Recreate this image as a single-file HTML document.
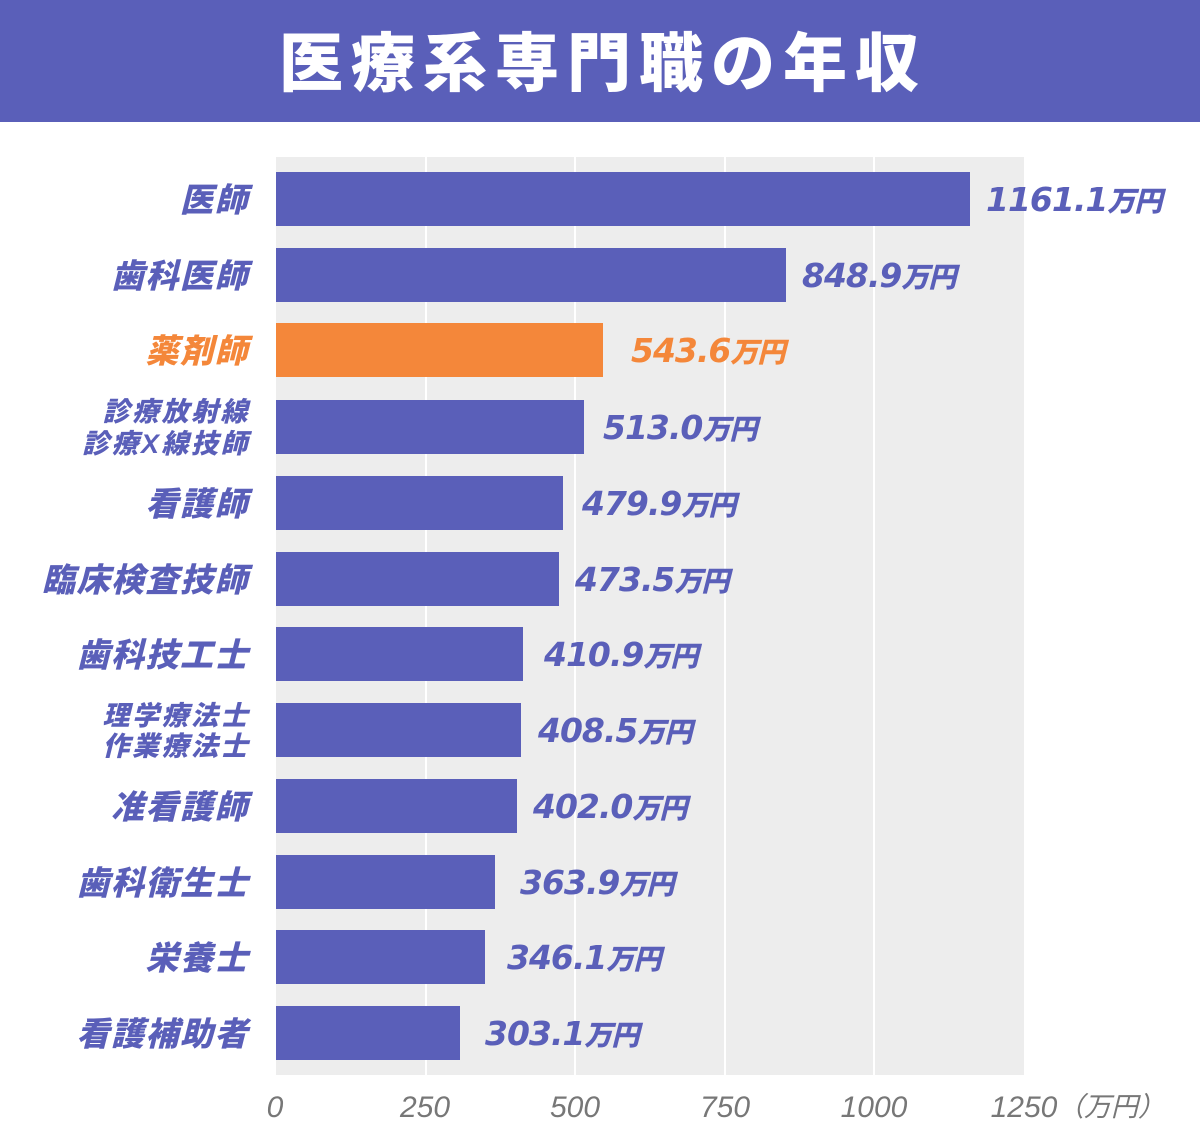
<!DOCTYPE html>
<html><head><meta charset="utf-8"><style>
html,body{margin:0;padding:0;background:#fff;}
svg{display:block;}
.lab{font-family:"Liberation Sans","Noto Sans CJK JP",sans-serif;font-weight:900;font-style:italic;fill:#5a5fb9;}
.num{font-family:"DejaVu Sans",sans-serif;font-weight:bold;font-style:italic;font-size:33px;letter-spacing:-1px;}
.unit{font-family:"Noto Sans CJK JP",sans-serif;font-weight:900;font-style:italic;font-size:28px;letter-spacing:-1px;}
.tick{font-family:"Liberation Sans","Noto Sans CJK JP",sans-serif;font-style:italic;font-size:30px;fill:#777;}
</style></head><body>
<svg width="1200" height="1146" viewBox="0 0 1200 1146" xmlns="http://www.w3.org/2000/svg">
<rect x="0" y="0" width="1200" height="122" fill="#5a5fb9"/>
<text x="603" y="86" text-anchor="middle" font-family="'Noto Sans CJK JP',sans-serif" font-weight="900" font-size="64" letter-spacing="8" fill="#fff">医療系専門職の年収</text>

<rect x="276" y="157" width="748" height="918" fill="#ededed"/>
<g fill="#fff">
<rect x="425" y="157" width="2" height="918"/>
<rect x="574" y="157" width="2" height="918"/>
<rect x="724" y="157" width="2" height="918"/>
<rect x="873" y="157" width="2" height="918"/>
</g>

<g fill="#5a5fb9">
<rect x="276" y="172" width="694" height="54"/>
<rect x="276" y="248" width="510" height="54"/>
<rect x="276" y="400" width="308" height="54"/>
<rect x="276" y="476" width="287" height="54"/>
<rect x="276" y="552" width="283" height="54"/>
<rect x="276" y="627" width="247" height="54"/>
<rect x="276" y="703" width="245" height="54"/>
<rect x="276" y="779" width="241" height="54"/>
<rect x="276" y="855" width="219" height="54"/>
<rect x="276" y="930" width="209" height="54"/>
<rect x="276" y="1006" width="184" height="54"/>
</g>
<rect x="276" y="323" width="327" height="54" fill="#f4873a"/>

<!-- category labels -->
<g class="lab" text-anchor="end" font-size="33" letter-spacing="1.5">
<text x="249" y="211.5">医師</text>
<text x="249" y="287.5">歯科医師</text>
<text x="249" y="362.5" style="fill:#f4873a">薬剤師</text>
<text x="249" y="515.5">看護師</text>
<text x="249" y="591.5">臨床検査技師</text>
<text x="249" y="666.5">歯科技工士</text>
<text x="249" y="818.5">准看護師</text>
<text x="249" y="894.5">歯科衛生士</text>
<text x="249" y="969.5">栄養士</text>
<text x="249" y="1045.5">看護補助者</text>
</g>
<g class="lab" text-anchor="end" font-size="27" letter-spacing="2.5">
<text x="250" y="421">診療放射線</text>
<text x="250" y="453">診療X線技師</text>
<text x="250" y="725">理学療法士</text>
<text x="250" y="755.5">作業療法士</text>
</g>

<!-- value labels -->
<g class="lab">
<text x="986" y="211"><tspan class="num">1161.1</tspan><tspan class="unit">万円</tspan></text>
<text x="802" y="287"><tspan class="num">848.9</tspan><tspan class="unit">万円</tspan></text>
<text x="631" y="362" style="fill:#f4873a"><tspan class="num">543.6</tspan><tspan class="unit">万円</tspan></text>
<text x="603" y="439"><tspan class="num">513.0</tspan><tspan class="unit">万円</tspan></text>
<text x="582" y="515"><tspan class="num">479.9</tspan><tspan class="unit">万円</tspan></text>
<text x="575" y="591"><tspan class="num">473.5</tspan><tspan class="unit">万円</tspan></text>
<text x="544" y="666"><tspan class="num">410.9</tspan><tspan class="unit">万円</tspan></text>
<text x="538" y="742"><tspan class="num">408.5</tspan><tspan class="unit">万円</tspan></text>
<text x="533" y="818"><tspan class="num">402.0</tspan><tspan class="unit">万円</tspan></text>
<text x="520" y="894"><tspan class="num">363.9</tspan><tspan class="unit">万円</tspan></text>
<text x="507" y="969"><tspan class="num">346.1</tspan><tspan class="unit">万円</tspan></text>
<text x="485" y="1045"><tspan class="num">303.1</tspan><tspan class="unit">万円</tspan></text>
</g>

<!-- axis ticks -->
<g class="tick" text-anchor="middle">
<text x="275" y="1117">0</text>
<text x="425" y="1117">250</text>
<text x="575" y="1117">500</text>
<text x="725" y="1117">750</text>
<text x="874" y="1117">1000</text>
<text x="1024" y="1117">1250</text>
</g>
<text x="1057" y="1116" font-family="'Noto Sans CJK JP',sans-serif" font-style="italic" font-size="27" fill="#777">（万円）</text>
</svg>
</body></html>
